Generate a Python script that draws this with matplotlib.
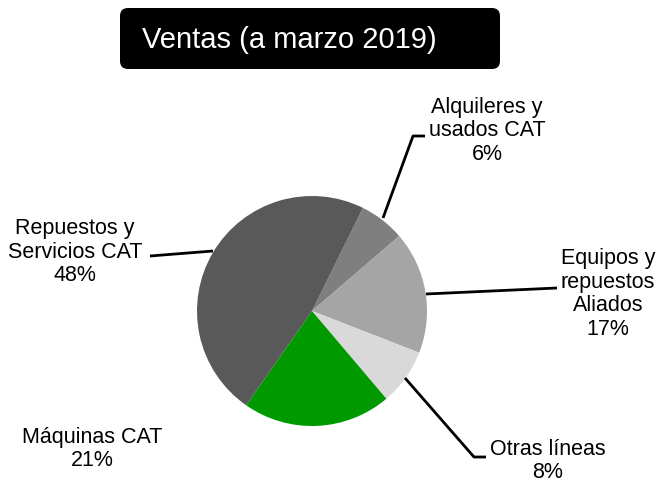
import matplotlib.pyplot as plt
from matplotlib.patches import FancyBboxPatch

plt.rcParams['font.family'] = ['Liberation Sans', 'DejaVu Sans']

# slices in drawing order (clockwise from the top)
labels = ['Alquileres y\nusados CAT', 'Equipos y\nrepuestos\nAliados', 'Otras líneas',
          'Máquinas CAT', 'Repuestos y\nServicios CAT']
values = [6.4, 17.2, 7.9, 20.9, 47.6]
pct_labels = ['6%', '17%', '8%', '21%', '48%']
colors = ['#7f7f7f', '#a5a5a5', '#d9d9d9', '#009900', '#595959']

W, H = 656, 484
fig = plt.figure(figsize=(W / 100, H / 100), dpi=100)
ax = fig.add_axes([0, 0, 1, 1])


def py(y):
    # pixel row -> data y
    return H - y


ax.pie(values, colors=colors, startangle=63.7, counterclock=False,
       center=(312, py(311)), radius=115, frame=True,
       wedgeprops=dict(linewidth=0))
ax.set_xlim(0, W)
ax.set_ylim(0, H)
ax.set_aspect('equal')
ax.axis('off')

# title box
box = FancyBboxPatch((120, py(69)), 380, 61, boxstyle='round,pad=0,rounding_size=8',
                     facecolor='black', edgecolor='none')
ax.add_patch(box)
ax.text(142, py(40), 'Ventas (a marzo 2019)', color='white', fontsize=21,
        ha='left', va='center')

# data labels
label_pos = [(487, 131), (608, 294), (548, 461), (92, 449), (75, 252)]
for lab, pct, (x, y) in zip(labels, pct_labels, label_pos):
    ax.text(x, py(y), lab + '\n' + pct, ha='center', va='center', fontsize=15.5,
            linespacing=1.15, color='black')

# leader lines
leaders = [
    [(383, 218), (413, 136), (425, 136)],
    [(426, 294), (557, 288)],
    [(405, 378), (474, 457), (486, 457)],
    [(150, 256), (213, 251)],
]
for pts in leaders:
    ax.plot([p[0] for p in pts], [py(p[1]) for p in pts], color='black', lw=2,
            solid_capstyle='butt')

fig.savefig('out.png', dpi=100)
